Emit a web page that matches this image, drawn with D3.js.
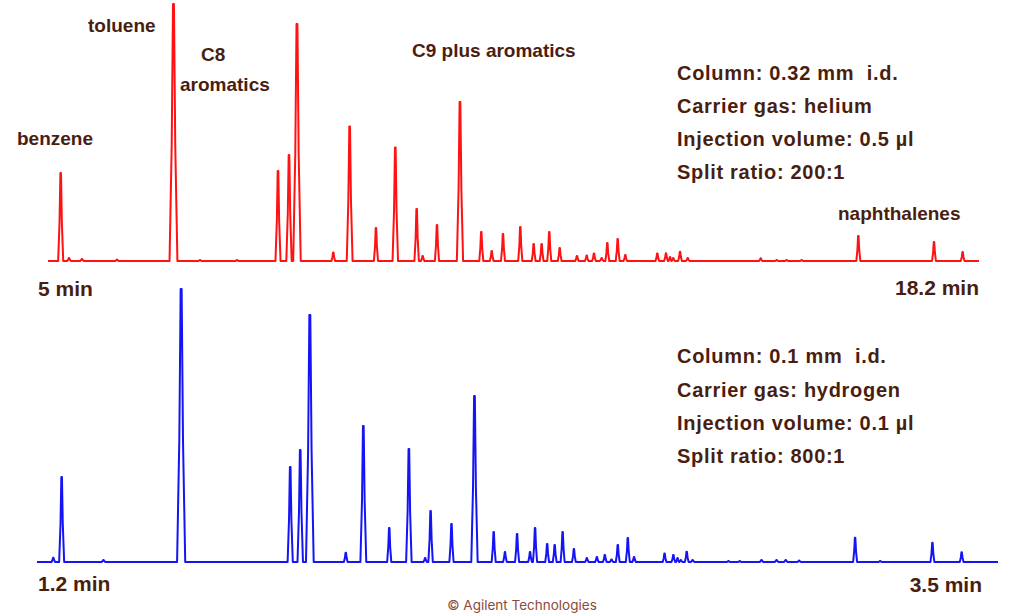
<!DOCTYPE html>
<html><head><meta charset="utf-8">
<script src="https://cdn.jsdelivr.net/npm/d3@7"></script>
<style>
body{margin:0;background:#fff}
svg{display:block}
text{font-family:"Liberation Sans",Arial,sans-serif;font-weight:bold;fill:#4a1e0f;white-space:pre}
</style>
</head><body>
<svg id="chart" width="1024" height="616"></svg>
<script>
// ---- data ----
// top run: 0.32 mm column, helium (minutes, detector signal)
const topTimes   = [5.180, 5.298, 5.482, 5.978, 6.779, 7.155, 7.680, 8.261, 8.417, 8.530,
                    9.045, 9.277, 9.650, 9.924, 10.227, 10.312, 10.515, 10.841, 11.143, 11.291,
                    11.451, 11.696, 11.886, 11.999, 12.107, 12.255, 12.500, 12.638, 12.741, 12.850,
                    12.930, 13.077, 13.185, 13.639, 13.762, 13.819, 13.865, 13.961, 14.070, 15.105,
                    15.331, 15.473, 15.686, 16.489, 17.562, 17.968];
const topSignal  = [88, 3, 2, 1.5, 257, 1, 1, 90, 106, 237,
                    8.5, 134.5, 33, 113.5, 52, 5, 36, 159, 29, 10,
                    27, 34, 17, 17, 29, 13, 5, 5.5, 7.5, 3,
                    18, 22, 6, 7.5, 7.7, 4, 3, 9.3, 3, 2.7,
                    1, 1, 1, 25, 19, 9];
// bottom run: 0.1 mm column, hydrogen
const botTimes   = [1.239, 1.259, 1.359, 1.545, 1.806, 1.830, 1.853, 1.939, 1.981, 2.043,
                    2.090, 2.129, 2.142, 2.192, 2.247, 2.293, 2.320, 2.349, 2.380, 2.392,
                    2.421, 2.439, 2.458, 2.485, 2.516, 2.540, 2.559, 2.575, 2.590, 2.614,
                    2.629, 2.702, 2.723, 2.733, 2.741, 2.755, 2.769, 2.855, 2.882, 2.934,
                    2.970, 2.992, 3.024, 3.158, 3.218, 3.343, 3.413];
const botSignal  = [4.3, 85, 2, 273, 95, 112, 247, 9.3, 136, 34,
                    113, 4, 51, 38, 166, 30, 10, 28, 10, 34,
                    18, 17, 30, 13, 4, 5, 7, 2.5, 17, 24,
                    5, 8.5, 7, 4, 2, 10.3, 2, 1, 1, 2,
                    2, 2, 1.5, 24.3, 1, 19.3, 9.7];
const topTimeRange = [5, 18.2];
const botTimeRange = [1.2, 3.5];
const topTickLabels = ["5 min", "18.2 min"];
const botTickLabels = ["1.2 min", "3.5 min"];
const compoundLabels = ["benzene", "toluene", "C8", "aromatics", "C9 plus aromatics", "naphthalenes"];
const topConditions = ["Column: 0.32 mm  i.d.", "Carrier gas: helium", "Injection volume: 0.5 µl", "Split ratio: 200:1"];
const botConditions = ["Column: 0.1 mm  i.d.", "Carrier gas: hydrogen", "Injection volume: 0.1 µl", "Split ratio: 800:1"];
const credit = "© Agilent Technologies";

// ---- drawing ----
const svg = d3.select("#chart");

const xTop = d3.scaleLinear().domain(topTimeRange).range([48, 979]);
const yTop = d3.scaleLinear().domain([0, 260]).range([261, 1]);
const xBot = d3.scaleLinear().domain(botTimeRange).range([37, 998]);
const yBot = d3.scaleLinear().domain([0, 260]).range([562, 302]);

function trace(times, signal, x, range) {
  const px = times.map(t => x(t));
  const pts = [[range[0], 0]];
  times.forEach((t, i) => {
    const h = signal[i];
    let hw = 1.8 + h / 120;
    if (i > 0) hw = Math.min(hw, (px[i] - px[i - 1]) * 0.48);
    if (i < times.length - 1) hw = Math.min(hw, (px[i + 1] - px[i]) * 0.48);
    const c = px[i];
    pts.push([x.invert(c - hw), 0],
             [x.invert(c - hw * 0.45), h * 0.45],
             [x.invert(c - hw * 0.12), h],
             [x.invert(c + hw * 0.12), h],
             [x.invert(c + hw * 0.45), h * 0.45],
             [x.invert(c + hw), 0]);
  });
  pts.push([range[1], 0]);
  return pts;
}

function drawTrace(times, signal, x, y, range, color) {
  const line = d3.line().x(d => x(d[0])).y(d => y(d[1]));
  svg.append("path")
    .attr("d", line(trace(times, signal, x, range)))
    .attr("fill", "none")
    .attr("stroke", color)
    .attr("stroke-width", 2)
    .attr("stroke-linejoin", "round");
}

drawTrace(topTimes, topSignal, xTop, yTop, topTimeRange, "#ff1212");
drawTrace(botTimes, botSignal, xBot, yBot, botTimeRange, "#1414f5");

// axis end labels
function endLabels(labels, x, range, baselines) {
  svg.append("text").attr("x", x(range[0]) - 10).attr("y", baselines[0])
    .attr("font-size", 21).text(labels[0]);
  svg.append("text").attr("x", x(range[1]) - 16 + 16).attr("y", baselines[1])
    .attr("text-anchor", "end").attr("font-size", 21).text(labels[1]);
}
endLabels(topTickLabels, xTop, topTimeRange, [296, 295]);
svg.append("text").attr("x", 38).attr("y", 591).attr("font-size", 21).text(botTickLabels[0]);
svg.append("text").attr("x", 982).attr("y", 592).attr("text-anchor", "end").attr("font-size", 21).text(botTickLabels[1]);

// compound labels
const labelPos = [[17, 145], [88, 32], [201, 61], [180, 90.5], [412, 57], [838, 219.5]];
compoundLabels.forEach((s, i) => {
  svg.append("text").attr("x", labelPos[i][0]).attr("y", labelPos[i][1])
    .attr("font-size", 19).text(s);
});

// condition blocks
function conditions(lines, baselines) {
  lines.forEach((s, i) => {
    svg.append("text").attr("x", 677).attr("y", baselines[i])
      .attr("font-size", 20).attr("letter-spacing", 0.7).text(s);
  });
}
conditions(topConditions, [79.5, 113, 145.5, 178.5]);
conditions(botConditions, [363.3, 397.3, 430, 463.3]);

svg.append("text").attr("x", 522).attr("y", 609.5).attr("text-anchor", "middle")
  .style("font-family", "Inter, 'Open Sans', sans-serif").style("font-weight", "normal")
  .style("fill", "#8c4a3a").attr("font-size", 13.5).text(credit);
</script>
</body></html>
